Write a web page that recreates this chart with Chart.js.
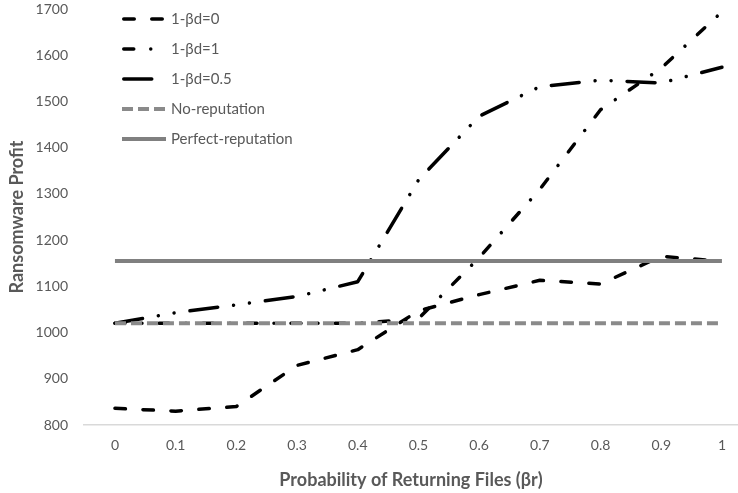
<!DOCTYPE html>
<html>
<head>
<meta charset="utf-8">
<script src="https://cdn.jsdelivr.net/npm/chart.js@4"></script>
<style>
  html, body { margin: 0; padding: 0; background: #fff; }
  #wrap { width: 738px; height: 493px; }
</style>
</head>
<body>
<div id="wrap"><canvas id="chart" width="738" height="493"></canvas></div>
<script>
// data
const xValues = [0, 0.1, 0.2, 0.3, 0.4, 0.5, 0.6, 0.7, 0.8, 0.9, 1];
const xLabels = ['0', '0.1', '0.2', '0.3', '0.4', '0.5', '0.6', '0.7', '0.8', '0.9', '1'];
const seriesNames = ['1-βd=0', '1-βd=1', '1-βd=0.5', 'No-reputation', 'Perfect-reputation'];
const betaD0 = [836, 830, 840, 929, 963, 1047, 1082, 1113, 1105, 1165, 1154];
const betaD1 = [1020, 1020, 1020, 1020, 1020, 1030, 1162, 1310, 1482, 1572, 1694];
const betaD05 = [1020, 1043, 1060, 1078, 1110, 1330, 1468, 1532, 1546, 1540, 1574];
const noReputation = [1020, 1020, 1020, 1020, 1020, 1020, 1020, 1020, 1020, 1020, 1020];
const perfectReputation = [1155, 1155, 1155, 1155, 1155, 1155, 1155, 1155, 1155, 1155, 1155];
const yTicks = [800, 900, 1000, 1100, 1200, 1300, 1400, 1500, 1600, 1700];

function toPoints(values) {
    return values.map((v, i) => ({ x: xValues[i], y: v }));
}

Chart.defaults.font.family = 'Lato';
Chart.defaults.color = '#595959';

// excel style legend, stacked inside the plot, top left
const insideLegend = {
    id: 'insideLegend',
    afterDraw(chart) {
        const ctx = chart.ctx;
        const area = chart.chartArea;
        const x0 = area.left + 38;
        const len = 44;
        chart.data.datasets.forEach((ds, i) => {
            const y = area.top + 10 + i * 30;
            ctx.save();
            ctx.strokeStyle = ds.borderColor;
            ctx.lineWidth = ds.borderWidth;
            ctx.lineCap = ds.borderCapStyle;
            ctx.setLineDash(ds.borderDash || []);
            ctx.beginPath();
            ctx.moveTo(x0 + (ds.borderCapStyle === 'round' ? 1.75 : 0), y);
            ctx.lineTo(x0 + len, y);
            ctx.stroke();
            ctx.setLineDash([]);
            ctx.fillStyle = '#595959';
            ctx.font = '15px Lato';
            ctx.textBaseline = 'middle';
            ctx.textAlign = 'left';
            ctx.fillText(ds.label, x0 + len + 5, y);
            ctx.restore();
        });
    }
};

new Chart(document.getElementById('chart'), {
    type: 'line',
    data: {
        datasets: [{
            label: seriesNames[0],
            data: toPoints(betaD0),
            borderColor: '#000000',
            borderWidth: 3.5,
            borderDash: [10.5, 17.5],
            borderCapStyle: 'round',
            order: 5
        }, {
            label: seriesNames[1],
            data: toPoints(betaD1),
            borderColor: '#000000',
            borderWidth: 3.5,
            borderDash: [10, 17, 0.01, 17],
            borderCapStyle: 'round',
            order: 4
        }, {
            label: seriesNames[2],
            data: toPoints(betaD05),
            borderColor: '#000000',
            borderWidth: 3.5,
            borderDash: [28, 16, 0.01, 16, 0.01, 16],
            borderCapStyle: 'round',
            order: 3
        }, {
            label: seriesNames[3],
            data: toPoints(noReputation),
            borderColor: '#8a8a8a',
            borderWidth: 4,
            borderDash: [11, 5],
            borderCapStyle: 'butt',
            order: 2
        }, {
            label: seriesNames[4],
            data: toPoints(perfectReputation),
            borderColor: '#808080',
            borderWidth: 4,
            borderCapStyle: 'butt',
            order: 1
        }]
    },
    options: {
        responsive: false,
        animation: false,
        layout: { padding: { top: 9, right: 0, bottom: 0, left: 0 } },
        elements: {
            point: { radius: 0, hoverRadius: 0 },
            line: { tension: 0, borderJoinStyle: 'round' }
        },
        plugins: {
            legend: { display: false },
            tooltip: { enabled: false }
        },
        scales: {
            x: {
                type: 'linear',
                min: -0.051,
                max: 1.0264,
                afterBuildTicks: (scale) => {
                    scale.ticks = xValues.map(v => ({ value: v }));
                },
                afterFit: (scale) => { scale.height = 68; },
                ticks: {
                    padding: 12,
                    maxRotation: 0,
                    autoSkip: false,
                    font: { size: 14 },
                    callback: (value, index) => xLabels[index]
                },
                grid: { display: true, color: 'transparent', drawTicks: false },
                border: { display: true, color: '#d9d9d9', width: 1.5 },
                title: {
                    display: true,
                    text: 'Probability of Returning Files (βr)',
                    font: { size: 18, weight: 'bold' },
                    padding: { top: 0, bottom: 2 }
                }
            },
            y: {
                min: 800,
                max: 1700,
                afterBuildTicks: (scale) => {
                    scale.ticks = yTicks.map(v => ({ value: v }));
                },
                afterFit: (scale) => {
                    scale.width = 84;
                    // tick padding should not push the plot top down
                    scale.paddingTop = 8;
                    scale.paddingBottom = 8;
                },
                ticks: {
                    padding: 16,
                    font: { size: 14 },
                    callback: (value) => String(value)
                },
                grid: { display: false, drawTicks: false },
                border: { display: false },
                title: {
                    display: true,
                    text: 'Ransomware Profit',
                    font: { size: 18, weight: 'bold' },
                    padding: { top: 6, bottom: 0 }
                }
            }
        }
    },
    plugins: [insideLegend]
});
</script>
</body>
</html>
